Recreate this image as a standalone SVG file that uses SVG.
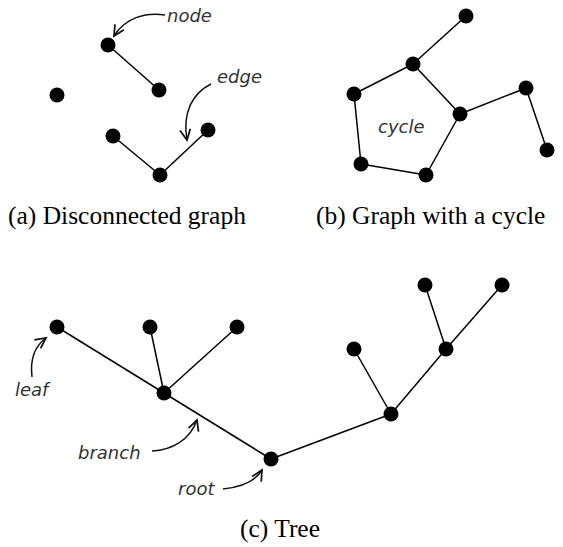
<svg xmlns="http://www.w3.org/2000/svg" width="563" height="547" viewBox="0 0 563 547">
<style>
.edge{stroke:#000;stroke-width:1.5;fill:none}
.node{fill:#000}
.lbl{font-family:"DejaVu Sans",sans-serif;font-style:italic;font-size:18px;fill:#333}
.cap{font-family:"Liberation Serif",serif;font-size:25.5px;fill:#000}
.arr{stroke:#111;stroke-width:1.5;fill:none;marker-end:url(#ah)}
</style>
<defs>
<marker id="ah" markerUnits="userSpaceOnUse" markerWidth="14" markerHeight="14" viewBox="-10 -6 12 12" refX="0" refY="0" orient="auto">
<path d="M-9,-4.5 L0,0 L-9,4.5" fill="none" stroke="#111" stroke-width="1.5"/>
</marker>
</defs>
<rect width="563" height="547" fill="#fff"/>
<g id="connectors">
<line class="edge" x1="108" y1="45" x2="159" y2="90"/>
<line class="edge" x1="113" y1="136" x2="160" y2="175"/>
<line class="edge" x1="160" y1="175" x2="208" y2="130"/>
<line class="edge" x1="466" y1="16" x2="413" y2="64"/>
<line class="edge" x1="413" y1="64" x2="354" y2="94"/>
<line class="edge" x1="413" y1="64" x2="460" y2="114"/>
<line class="edge" x1="354" y1="94" x2="361" y2="164"/>
<line class="edge" x1="361" y1="164" x2="426" y2="175"/>
<line class="edge" x1="426" y1="175" x2="460" y2="114"/>
<line class="edge" x1="460" y1="114" x2="526" y2="88"/>
<line class="edge" x1="526" y1="88" x2="547" y2="150"/>
<line class="edge" x1="57" y1="327" x2="164" y2="393"/>
<line class="edge" x1="150" y1="327" x2="164" y2="393"/>
<line class="edge" x1="237" y1="327" x2="164" y2="393"/>
<line class="edge" x1="164" y1="393" x2="271" y2="459"/>
<line class="edge" x1="271" y1="459" x2="391" y2="414"/>
<line class="edge" x1="391" y1="414" x2="354" y2="349"/>
<line class="edge" x1="391" y1="414" x2="446" y2="349"/>
<line class="edge" x1="446" y1="349" x2="425" y2="285"/>
<line class="edge" x1="446" y1="349" x2="502" y2="285"/>
</g>
<g id="annotations">
<path class="arr" d="M165,15 C145,12 125,18 114,36"/>
<path class="arr" d="M211,84 C193,93 182,112 187,140"/>
<path class="arr" d="M32,377 C30,360 35,346 46,338"/>
<path class="arr" d="M152,451 C172,450 190,440 197,420"/>
<path class="arr" d="M223,489 C240,487 255,482 262,470"/>
</g>
<g id="graph-a">
<circle id="a1" class="node" cx="108" cy="45" r="7.5"/>
<circle id="a2" class="node" cx="159" cy="90" r="7.5"/>
<circle id="a3" class="node" cx="57" cy="95" r="7.5"/>
<circle id="a4" class="node" cx="113" cy="136" r="7.5"/>
<circle id="a5" class="node" cx="160" cy="175" r="7.5"/>
<circle id="a6" class="node" cx="208" cy="130" r="7.5"/>
</g>
<g id="graph-b">
<circle id="b1" class="node" cx="466" cy="16" r="7.5"/>
<circle id="b2" class="node" cx="413" cy="64" r="7.5"/>
<circle id="b3" class="node" cx="354" cy="94" r="7.5"/>
<circle id="b4" class="node" cx="460" cy="114" r="7.5"/>
<circle id="b5" class="node" cx="526" cy="88" r="7.5"/>
<circle id="b6" class="node" cx="547" cy="150" r="7.5"/>
<circle id="b7" class="node" cx="361" cy="164" r="7.5"/>
<circle id="b8" class="node" cx="426" cy="175" r="7.5"/>
</g>
<g id="tree-c">
<circle id="c1" class="node" cx="57" cy="327" r="7.5"/>
<circle id="c2" class="node" cx="150" cy="327" r="7.5"/>
<circle id="c3" class="node" cx="237" cy="327" r="7.5"/>
<circle id="c4" class="node" cx="164" cy="393" r="7.5"/>
<circle id="c5" class="node" cx="271" cy="459" r="7.5"/>
<circle id="c6" class="node" cx="391" cy="414" r="7.5"/>
<circle id="c7" class="node" cx="354" cy="349" r="7.5"/>
<circle id="c8" class="node" cx="446" cy="349" r="7.5"/>
<circle id="c9" class="node" cx="425" cy="285" r="7.5"/>
<circle id="c10" class="node" cx="502" cy="285" r="7.5"/>
</g>
<g id="labels">
<text class="lbl" x="167" y="22">node</text>
<text class="lbl" x="217" y="83">edge</text>
<text class="lbl" x="378" y="133">cycle</text>
<text class="lbl" x="15" y="396">leaf</text>
<text class="lbl" x="78" y="459">branch</text>
<text class="lbl" x="178" y="495">root</text>
</g>
<g id="captions">
<text class="cap" x="8" y="224">(a) Disconnected graph</text>
<text class="cap" x="316" y="224">(b) Graph with a cycle</text>
<text class="cap" x="280" y="537" text-anchor="middle">(c) Tree</text>
</g>
</svg>
